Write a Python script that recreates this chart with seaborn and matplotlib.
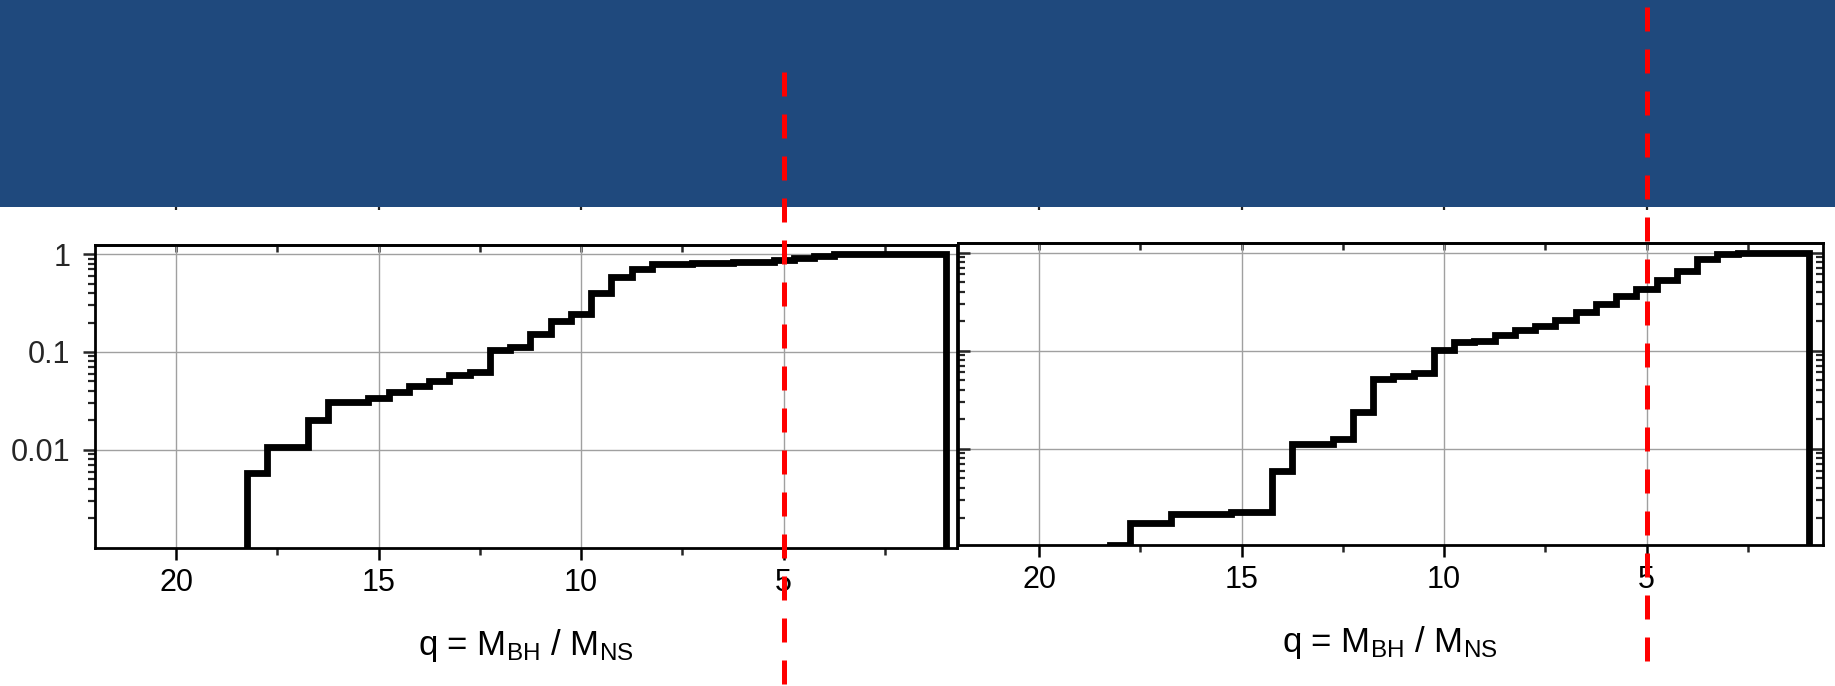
import numpy as np
import pandas as pd
import matplotlib
matplotlib.use("Agg")
import matplotlib.pyplot as plt
import seaborn as sns
from matplotlib.patches import Rectangle
from matplotlib.ticker import LogLocator, NullFormatter
from matplotlib.transforms import blended_transform_factory

# ---------------- data ----------------
# bin edges (q decreasing) where the cumulative fraction steps up; last edge is where the curve drops
q_edges_left = [18.25, 17.75, 16.75, 16.25, 15.25, 14.75, 14.25, 13.75, 13.25, 12.75,
                12.25, 11.75, 11.25, 10.75, 10.25, 9.75, 9.25, 8.75, 8.25, 7.25,
                6.25, 5.25, 4.75, 4.25, 3.75, 1.0]
cdf_left = [0.0058, 0.0107, 0.0204, 0.0308, 0.034, 0.039, 0.0445, 0.050, 0.0577, 0.0624,
            0.106, 0.1125, 0.152, 0.208, 0.247, 0.402, 0.586, 0.697, 0.79, 0.815,
            0.835, 0.875, 0.917, 0.954, 1.0]

q_edges_right = [18.25, 17.75, 16.75, 15.25, 14.25, 13.75, 12.75, 12.25, 11.75, 11.25,
                 10.75, 10.25, 9.75, 9.25, 8.75, 8.25, 7.75, 7.25, 6.75, 6.25,
                 5.75, 5.25, 4.75, 4.25, 3.75, 3.25, 2.75, 1.0]
cdf_right = [0.00105, 0.00177, 0.00215, 0.00229, 0.0060, 0.0111, 0.0126, 0.0238, 0.0515, 0.0548,
             0.0593, 0.1008, 0.1216, 0.1264, 0.1455, 0.1636, 0.1767, 0.2066, 0.2454, 0.3006,
             0.362, 0.430, 0.522, 0.641, 0.85, 0.96, 1.0]

q_major_ticks = [20, 15, 10, 5]
q_major_labels = ["20", "15", "10", "5"]
q_minor_ticks = [17.5, 12.5, 7.5, 2.5]
y_major_ticks = [1, 0.1, 0.01]
y_major_labels = ["1", "0.1", "0.01"]
q_threshold = 5
xlabel_text = r"q = M$_\mathregular{BH}$ / M$_\mathregular{NS}$"

# ---------------- style ----------------
sns.set_theme(style="white")
plt.rcParams["font.family"] = ["Liberation Sans", "DejaVu Sans"]
plt.rcParams["mathtext.fontset"] = "custom"
plt.rcParams["mathtext.rm"] = "Liberation Sans"
plt.rcParams["mathtext.it"] = "Liberation Sans:italic"

W, H = 1835, 686
fig = plt.figure(figsize=(W / 100, H / 100), dpi=100)
fig.patch.set_facecolor("white")

BANNER = "#1F497D"
FLOOR = 1e-5


def fpos(x0, x1, top, bottom):
    return [x0 / W, 1 - bottom / H, (x1 - x0) / W, (bottom - top) / H]


def step_frame(edges, cdf):
    xs = list(edges) + [edges[-1]]
    ys = [FLOOR] + list(cdf) + [FLOOR]
    return pd.DataFrame({"q": xs, "frac": ys})


panels = [
    dict(pos=fpos(95, 957, 245, 547.7), xlim=(22, 0.72), ylim=(0.001, 1.24),
         edges=q_edges_left, cdf=cdf_left, labels=True, red=(1.571, -0.46)),
    dict(pos=fpos(958, 1822.7, 243, 545), xlim=(22, 0.65), ylim=(0.00105, 1.25),
         edges=q_edges_right, cdf=cdf_right, labels=False, red=(1.781, -0.41)),
]

# banner
fig.add_artist(Rectangle((0, 1 - 207 / H), 1, 207 / H, transform=fig.transFigure,
                         facecolor=BANNER, edgecolor="none", zorder=-1))

for p in panels:
    # hidden axis whose tick marks peek out under the banner
    ua = fig.add_axes([p["pos"][0], 1 - 207 / H, p["pos"][2], 0.15], zorder=-2)
    ua.set_xlim(*p["xlim"])
    ua.set_xticks(q_major_ticks)
    ua.set_yticks([])
    ua.tick_params(axis="x", direction="out", length=2.2, width=1.6, color="#222222",
                   labelbottom=False, bottom=True, top=False)
    for s in ua.spines.values():
        s.set_visible(False)
    ua.patch.set_visible(False)

    ax = fig.add_axes(p["pos"], zorder=0)
    ax.set_facecolor("white")
    df = step_frame(p["edges"], p["cdf"])
    sns.lineplot(data=df, x="q", y="frac", sort=False, estimator=None,
                 drawstyle="steps-pre", color="black", linewidth=4.9,
                 solid_joinstyle="miter", ax=ax, zorder=3)
    ax.set_yscale("log")
    ax.set_xlim(*p["xlim"])
    ax.set_ylim(*p["ylim"])

    ax.set_xticks(q_major_ticks)
    ax.set_xticklabels(q_major_labels)
    ax.set_xticks(q_minor_ticks, minor=True)
    ax.set_yticks(y_major_ticks)
    ax.set_yticklabels(y_major_labels if p["labels"] else [])
    ax.yaxis.set_minor_locator(LogLocator(base=10, subs=np.arange(2, 10), numticks=30))
    ax.yaxis.set_minor_formatter(NullFormatter())

    ax.grid(True, which="major", color="#A0A0A0", linewidth=1.0)
    ax.set_axisbelow(True)

    ax.tick_params(axis="x", which="major", direction="out", length=8.5, width=1.8,
                   bottom=True, top=False, labelsize=22, pad=6, colors="black")
    ax.tick_params(axis="x", which="minor", direction="out", length=5, width=1.8,
                   bottom=True, top=False)
    if p["labels"]:
        ax.tick_params(axis="y", which="major", direction="out", length=8.5, width=1.8,
                       left=True, right=False, labelsize=22, pad=9)
        ax.tick_params(axis="y", which="minor", direction="out", length=5, width=1.6,
                       left=True, right=False)
    else:
        ax.tick_params(axis="y", which="major", direction="in", length=8.5, width=1.8,
                       left=True, right=True, labelleft=False)
        ax.tick_params(axis="y", which="minor", direction="in", length=5, width=1.6,
                       left=True, right=True)

    sec = ax.secondary_xaxis("top")
    sec.set_xticks(q_major_ticks)
    sec.set_xticks(q_minor_ticks, minor=True)
    sec.tick_params(axis="x", which="both", direction="in", length=5, width=1.8,
                    labeltop=False)
    sec.spines["top"].set_linewidth(2.0)

    for s in ax.spines.values():
        s.set_linewidth(2.0)
        s.set_color("black")
        s.set_visible(True)

    ax.set_xlabel(xlabel_text, fontsize=25, labelpad=21, color="black")
    ax.set_ylabel("")

    # dashed threshold line, drawn from the top down so the dash pattern starts at the top
    trans = blended_transform_factory(ax.transData, ax.transAxes)
    ax.plot([q_threshold, q_threshold], list(p["red"]), transform=trans, clip_on=False,
            color="#FF0000", linewidth=3.6, dashes=(4.8, 3.6), zorder=6)

fig.savefig("out.png", dpi=100)
